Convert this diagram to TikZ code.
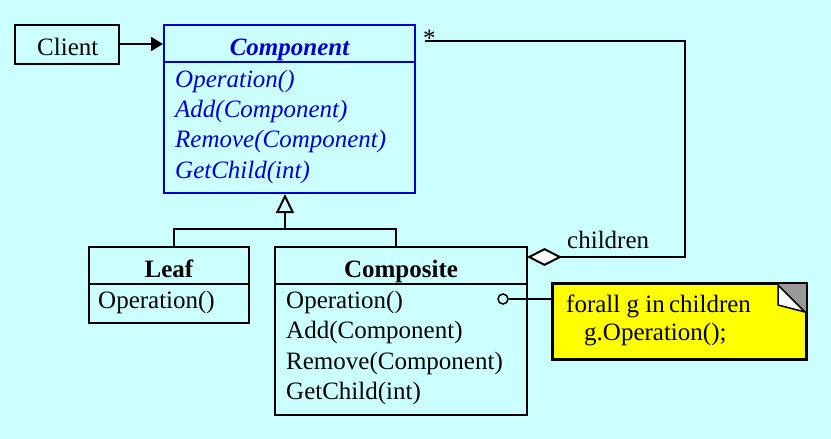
\documentclass[tikz,border=0pt]{standalone}
\usepackage{fontspec}
\setmainfont{Liberation Serif}
\usetikzlibrary{arrows.meta}
\definecolor{bgc}{HTML}{CCFFFF}
\definecolor{cblue}{HTML}{0000CC}
\definecolor{notey}{HTML}{FFFF00}
\definecolor{foldg}{HTML}{999999}
\tikzset{
  box/.style={draw=black, line width=2pt, inner sep=0pt},
  cbox/.style={draw=cblue, line width=2pt, inner sep=0pt},
  txt/.style={anchor=base west, inner sep=0pt, font=\fontsize{25}{30}\selectfont},
  ctxt/.style={txt, text=cblue, font=\fontsize{25}{30}\selectfont\itshape},
  ln/.style={line width=2pt, draw=black},
}
\begin{document}
\begin{tikzpicture}[x=1pt,y=-1pt]
\fill[bgc] (0,0) rectangle (831,439);
\useasboundingbox (0,0) rectangle (831,439);

% Client
\node[box, minimum width=104pt, minimum height=39pt] (client) at (67,44) {};
\node[txt] (clientt) at (37,55) {Client};

% Component
\node[cbox, minimum width=251pt, minimum height=168pt] (comp) at (289.5,109) {};
\draw[cblue, line width=2pt] (comp.west |- 0,62) -- (comp.east |- 0,62);
\node[txt, anchor=base, text=cblue, font=\fontsize{25}{30}\selectfont\bfseries\itshape] (compt) at (289.5,55) {Component};
\node[ctxt] (c1) at (175,87) {Operation()};
\node[ctxt] (c2) at (175,117) {Add(Component)};
\node[ctxt] (c3) at (175,147) {Remove(Component)};
\node[ctxt] (c4) at (175,178) {GetChild(int)};

% Leaf
\node[box, minimum width=160pt, minimum height=76pt] (leaf) at (169,285) {};
\draw[ln] (leaf.west |- 0,284) -- (leaf.east |- 0,284);
\node[txt, anchor=base, font=\fontsize{25}{30}\selectfont\bfseries] (leaft) at (169,277) {Leaf};
\node[txt] (l1) at (98,308) {Operation()};

% Composite
\node[box, minimum width=252pt, minimum height=168pt] (compo) at (401,331) {};
\draw[ln] (compo.west |- 0,284) -- (compo.east |- 0,284);
\node[txt, anchor=base, font=\fontsize{25}{30}\selectfont\bfseries] (compot) at (401,277) {Composite};
\node[txt] (o1) at (286,308) {Operation()};
\node[txt] (o2) at (286,338.5) {Add(Component)};
\node[txt] (o3) at (286,369) {Remove(Component)};
\node[txt] (o4) at (286,399.5) {GetChild(int)};

% Note
\node[box, fill=notey, minimum width=253pt, minimum height=75pt] (note) at (679.5,321.5) {};
\fill[foldg] (778,284) -- (806,284) -- (806,312) -- cycle;
\draw[line width=1.5pt, fill=white, line join=round] (778,285) -- (778,305) -- (805,312) -- cycle;
\draw[line width=2pt] (note.north west) rectangle (note.south east);
\node[txt] (n1) at (566,312) {forall g in\kern-2pt\ children};
\node[txt] (n2) at (584,340) {g.Operation();};

% Operation link to note
\node[draw=black, line width=1.5pt, circle, minimum size=10pt, inner sep=0pt] (circ) at (503,299) {};
\draw[line width=1.5pt] (circ.east) -- (circ.east -| note.west);

% Client -> Component
\draw[ln, -{Triangle[length=12pt,width=14pt]}] (client.east) -- (client.east -| comp.west);

% Inheritance
\coordinate (inh) at (285,229);
\coordinate (lt) at (174,247);
\coordinate (ct) at (396,247);
\draw[ln] (lt) |- (inh) -| (ct);
\draw[ln, -{Triangle[open,length=19pt,width=18pt]}] (inh) -- (inh |- comp.south);

% Aggregation
\coordinate (d0) at (527,257);
\coordinate (cr) at (685,41);
\coordinate (ast) at (425,41);
\draw[ln, {Diamond[fill=white,length=35pt,width=18pt]}-] (d0) -| (cr) -- (ast);
\node[txt] (star) at (423,46) {*};
\node[txt] (chl) at (567,248) {children};
\end{tikzpicture}
\end{document}
